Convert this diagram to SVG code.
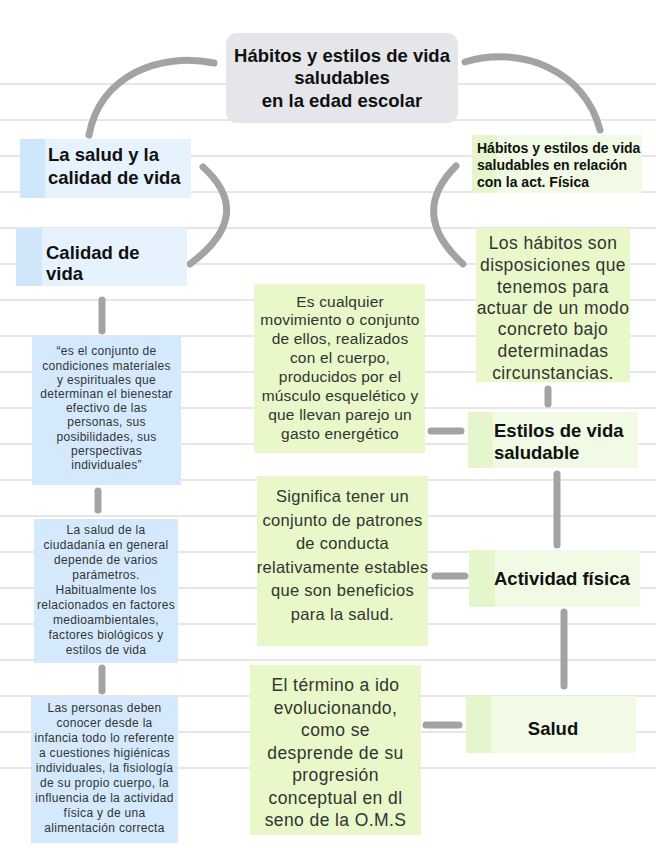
<svg xmlns="http://www.w3.org/2000/svg" width="656" height="848" viewBox="0 0 656 848">
<style>
.rule{stroke:#e6e6e6;stroke-width:2}
.con{fill:none;stroke:#a3a3a3;stroke-width:7;stroke-linecap:round}
.root{fill:#e4e6e9}
.lblB{fill:#e6f3fe}.strB{fill:#cfe6fb}
.txtB{fill:#d4eafc}
.lblG{fill:#f1fae4}.strG{fill:#e5f5cc}
.txtG{fill:#e8f8c8}
text{font-family:"Liberation Sans",Arial,sans-serif}
.b{font-weight:bold;fill:#111;font-size:18.5px}
.bs{font-weight:bold;fill:#111;font-size:14px}
.g{fill:#333;text-anchor:middle}
.s{fill:#333;text-anchor:middle;font-size:12px;letter-spacing:0.3px}
</style>
<g id="rules">
<line class="rule" x1="0" y1="84" x2="656" y2="84"/>
<line class="rule" x1="0" y1="120" x2="656" y2="120"/>
<line class="rule" x1="0" y1="156" x2="656" y2="156"/>
<line class="rule" x1="0" y1="192" x2="656" y2="192"/>
<line class="rule" x1="0" y1="228" x2="656" y2="228"/>
<line class="rule" x1="0" y1="264" x2="656" y2="264"/>
<line class="rule" x1="0" y1="300" x2="656" y2="300"/>
<line class="rule" x1="0" y1="336" x2="656" y2="336"/>
<line class="rule" x1="0" y1="372" x2="656" y2="372"/>
<line class="rule" x1="0" y1="408" x2="656" y2="408"/>
<line class="rule" x1="0" y1="444" x2="656" y2="444"/>
<line class="rule" x1="0" y1="480" x2="656" y2="480"/>
<line class="rule" x1="0" y1="516" x2="656" y2="516"/>
<line class="rule" x1="0" y1="552" x2="656" y2="552"/>
<line class="rule" x1="0" y1="588" x2="656" y2="588"/>
<line class="rule" x1="0" y1="624" x2="656" y2="624"/>
<line class="rule" x1="0" y1="660" x2="656" y2="660"/>
<line class="rule" x1="0" y1="696" x2="656" y2="696"/>
<line class="rule" x1="0" y1="732" x2="656" y2="732"/>
<line class="rule" x1="0" y1="768" x2="656" y2="768"/>
</g>
<g id="connectors">
<path class="con" d="M 214 63 C 160 52, 100 75, 89 135"/>
<path class="con" d="M 465 62 C 520 45, 585 70, 600 130"/>
<path class="con" d="M 203 167 Q 256 215 190 264"/>
<path class="con" d="M 456 166 Q 408 214 463 264"/>
<line class="con" x1="102" y1="300" x2="102" y2="331"/>
<line class="con" x1="98" y1="491" x2="98" y2="510"/>
<line class="con" x1="102" y1="668" x2="102" y2="691"/>
<line class="con" x1="548" y1="389" x2="548" y2="404"/>
<line class="con" x1="431" y1="431" x2="461" y2="431"/>
<line class="con" x1="557" y1="474" x2="557" y2="545"/>
<line class="con" x1="435" y1="576" x2="465" y2="576"/>
<line class="con" x1="564" y1="612" x2="564" y2="686"/>
<line class="con" x1="426" y1="725" x2="459" y2="725"/>
</g>
<g id="root">
<rect class="root" x="226" y="33" width="232" height="90" rx="11"/>
<text class="b" text-anchor="middle" x="342" y="61.5">Hábitos y estilos de vida</text>
<text class="b" text-anchor="middle" x="342" y="83.5">saludables</text>
<text class="b" text-anchor="middle" x="342" y="106.5">en la edad escolar</text>
</g>
<g id="salud-calidad">
<rect class="lblB" x="20" y="139" width="171" height="59"/>
<rect class="strB" x="20" y="139" width="25" height="59"/>
<text class="b" x="48" y="160.5">La salud y la</text>
<text class="b" x="48" y="183.5">calidad de vida</text>
</g>
<g id="calidad-vida">
<rect class="lblB" x="16" y="228" width="171" height="58"/>
<rect class="strB" x="16" y="228" width="26" height="58"/>
<text class="b" x="46" y="258.5">Calidad de</text>
<text class="b" x="46" y="279.5">vida</text>
</g>
<g id="definicion">
<rect class="txtB" x="32" y="336" width="149" height="149"/>
<text class="s" x="106.5" y="355.3">“es el conjunto de</text>
<text class="s" x="106.5" y="369.5">condiciones materiales</text>
<text class="s" x="106.5" y="383.7">y espirituales que</text>
<text class="s" x="106.5" y="397.9">determinan el bienestar</text>
<text class="s" x="106.5" y="412.1">efectivo de las</text>
<text class="s" x="106.5" y="426.3">personas, sus</text>
<text class="s" x="106.5" y="440.5">posibilidades, sus</text>
<text class="s" x="106.5" y="454.7">perspectivas</text>
<text class="s" x="106.5" y="468.9">individuales”</text>
</g>
<g id="salud-ciudadania">
<rect class="txtB" x="34" y="519" width="144" height="144"/>
<text class="s" x="106" y="534.3">La salud de la</text>
<text class="s" x="106" y="549.3">ciudadanía en general</text>
<text class="s" x="106" y="564.3">depende de varios</text>
<text class="s" x="106" y="579.3">parámetros.</text>
<text class="s" x="106" y="594.3">Habitualmente los</text>
<text class="s" x="106" y="609.3">relacionados en factores</text>
<text class="s" x="106" y="624.3">medioambientales,</text>
<text class="s" x="106" y="639.3">factores biológicos y</text>
<text class="s" x="106" y="654.3">estilos de vida</text>
</g>
<g id="personas">
<rect class="txtB" x="31" y="697" width="147" height="146"/>
<text class="s" x="104.5" y="712.3">Las personas deben</text>
<text class="s" x="104.5" y="727.3">conocer desde la</text>
<text class="s" x="104.5" y="742.3">infancia todo lo referente</text>
<text class="s" x="104.5" y="757.3">a cuestiones higiénicas</text>
<text class="s" x="104.5" y="772.3">individuales, la fisiología</text>
<text class="s" x="104.5" y="787.3">de su propio cuerpo, la</text>
<text class="s" x="104.5" y="802.3">influencia de la actividad</text>
<text class="s" x="104.5" y="817.3">física y de una</text>
<text class="s" x="104.5" y="832.3">alimentación correcta</text>
</g>
<g id="habitos-act">
<rect class="lblG" x="472" y="135" width="170" height="58"/>
<rect class="strG" x="472" y="135" width="25" height="58"/>
<text class="bs" x="477" y="153">Hábitos y estilos de vida</text>
<text class="bs" x="477" y="170">saludables en relación</text>
<text class="bs" x="477" y="187">con la act. Física</text>
</g>
<g id="habitos-def" font-size="17.5" letter-spacing="0.4">
<rect class="txtG" x="476" y="228" width="154" height="154"/>
<text class="g" x="553" y="249">Los hábitos son</text>
<text class="g" x="553" y="271">disposiciones que</text>
<text class="g" x="553" y="293">tenemos para</text>
<text class="g" x="553" y="314">actuar de un modo</text>
<text class="g" x="553" y="335">concreto bajo</text>
<text class="g" x="553" y="357">determinadas</text>
<text class="g" x="553" y="379">circunstancias.</text>
</g>
<g id="estilos">
<rect class="lblG" x="468" y="412" width="170" height="56"/>
<rect class="strG" x="468" y="412" width="25" height="56"/>
<text class="b" x="494" y="436.5">Estilos de vida</text>
<text class="b" x="494" y="458.5">saludable</text>
</g>
<g id="movimiento" font-size="15.5" letter-spacing="0.2">
<rect class="txtG" x="254" y="284" width="171" height="169"/>
<text class="g" x="340" y="306.5">Es cualquier</text>
<text class="g" x="340" y="325.4">movimiento o conjunto</text>
<text class="g" x="340" y="344.3">de ellos, realizados</text>
<text class="g" x="340" y="363.2">con el cuerpo,</text>
<text class="g" x="340" y="382.1">producidos por el</text>
<text class="g" x="340" y="401">músculo esquelético y</text>
<text class="g" x="340" y="419.9">que llevan parejo un</text>
<text class="g" x="340" y="438.8">gasto energético</text>
</g>
<g id="actividad">
<rect class="lblG" x="469" y="550" width="171" height="57"/>
<rect class="strG" x="469" y="550" width="26" height="57"/>
<text class="b" x="494" y="584.5">Actividad física</text>
</g>
<g id="significa" font-size="16.5" letter-spacing="0.3">
<rect class="txtG" x="257" y="476" width="171" height="170"/>
<text class="g" x="342.5" y="502">Significa tener un</text>
<text class="g" x="342.5" y="525.6">conjunto de patrones</text>
<text class="g" x="342.5" y="549.2">de conducta</text>
<text class="g" x="342.5" y="572.8">relativamente estables</text>
<text class="g" x="342.5" y="596.4">que son beneficios</text>
<text class="g" x="342.5" y="620">para la salud.</text>
</g>
<g id="salud">
<rect class="lblG" x="466" y="696" width="170" height="57"/>
<rect class="strG" x="466" y="696" width="25" height="57"/>
<text class="b" text-anchor="middle" x="553" y="734.5">Salud</text>
</g>
<g id="termino" font-size="17.5" letter-spacing="0.4">
<rect class="txtG" x="250" y="665" width="171" height="170"/>
<text class="g" x="335.5" y="691">El término a ido</text>
<text class="g" x="335.5" y="713.5">evolucionando,</text>
<text class="g" x="335.5" y="736">como se</text>
<text class="g" x="335.5" y="758.5">desprende de su</text>
<text class="g" x="335.5" y="781">progresión</text>
<text class="g" x="335.5" y="803.5">conceptual en dl</text>
<text class="g" x="335.5" y="826">seno de la O.M.S</text>
</g>
</svg>
